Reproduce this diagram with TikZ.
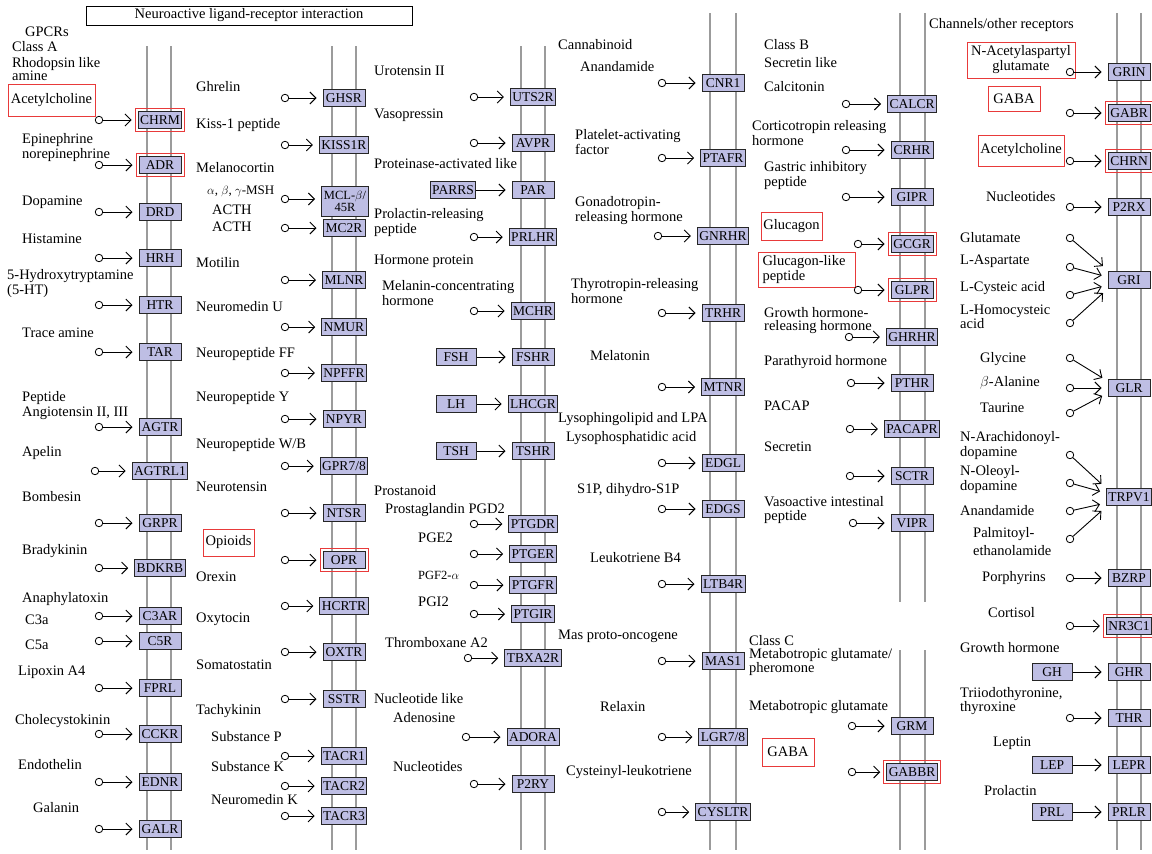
\documentclass[tikz,border=0pt]{standalone}
\usepackage{fontspec}
\setmainfont{Liberation Serif}
\usetikzlibrary{arrows.meta,calc,fit}
\definecolor{recfill}{RGB}{190,190,228}
\definecolor{hlred}{RGB}{232,58,58}
\definecolor{memgray}{RGB}{155,155,155}
\newcommand\myrec[5]{%
  \node[rec] (#1) at (#3,#4) {#2};
  \node[lig] (c#1) at (#5,#4) {};
  \draw[arr] (c#1.east) -- (c#1.east -| #1.west);%
}
\newcommand\myrecb[7]{%
  \node[rec] (#1) at (#3,#4) {#2};
  \node[rec,minimum width=40pt] (#5) at (#7,#4) {#6};
  \draw[arr] (#5.east) -- (#5.east -| #1.west);%
}
\begin{document}
\begin{tikzpicture}[x=1pt,y=-1pt,
 every node/.style={font=\fontsize{14.5}{15}\selectfont},
 lbl/.style={anchor=west,inner sep=0pt,align=left},
 rec/.style={draw=black!85,fill=recfill,line width=1pt,minimum width=42pt,minimum height=17pt,inner xsep=2pt,inner ysep=1pt,font=\fontsize{13.5}{14}\selectfont},
 hlbox/.style={draw=hlred,line width=0.9pt,inner sep=2.5pt},
 hllbl/.style={draw=hlred,line width=0.9pt,inner sep=0pt,align=center},
 lig/.style={circle,draw=black,fill=white,line width=0.8pt,minimum size=7.5pt,inner sep=0pt},
 arr/.style={-{Straight Barb[length=6pt,width=12pt]},line width=0.9pt,shorten >=6pt},
 mem/.style={draw=memgray,line width=1.4pt}]
\useasboundingbox (0,0) rectangle (1152,854);
\clip (0,0) rectangle (1152,854);
% membranes
\draw[mem] (147,46) -- (147,850); \draw[mem] (171,46) -- (171,850);
\draw[mem] (332,46) -- (332,850); \draw[mem] (356,46) -- (356,850);
\draw[mem] (521,46) -- (521,850); \draw[mem] (545,46) -- (545,850);
\draw[mem] (710,13) -- (710,850); \draw[mem] (736,13) -- (736,850);
\draw[mem] (900,13) -- (900,602); \draw[mem] (925,13) -- (925,602);
\draw[mem] (900,650) -- (900,850); \draw[mem] (925,650) -- (925,850);
\draw[mem] (1117,13) -- (1117,850); \draw[mem] (1141,13) -- (1141,850);
% title
\node[draw=black,line width=1pt,minimum width=326pt,minimum height=19pt,inner sep=0pt] (title) at (249,15.5) {Neuroactive ligand-receptor interaction};

% ---------- column 1 ----------
\node[lbl] (tGPCR) at (25,32) {GPCRs};
\node[lbl] (tClassA) at (12,47) {Class A};
\node[lbl,font=\fontsize{14.5}{12}\selectfont] (tRhod) at (12,69) {Rhodopsin like\\amine};
\node[hllbl,minimum width=87pt,minimum height=32pt] (tACh) at (51.5,100) {Acetylcholine};
\node[lbl] (tEpi) at (22,147.5) {Epinephrine\\norepinephrine};
\node[lbl] (tDop) at (22,202) {Dopamine};
\node[lbl] (tHis) at (22,239) {Histamine};
\node[lbl] (t5HT) at (7,283.5) {5-Hydroxytryptamine\\(5-HT)};
\node[lbl] (tTrace) at (22,333) {Trace amine};
\node[lbl] (tPep) at (22,406) {Peptide\\Angiotensin II, III};
\node[lbl] (tApe) at (22,453) {Apelin};
\node[lbl] (tBomb) at (22,497) {Bombesin};
\node[lbl] (tBrad) at (22,551) {Bradykinin};
\node[lbl] (tAna) at (22,599) {Anaphylatoxin};
\node[lbl] (tC3a) at (25,620) {C3a};
\node[lbl] (tC5a) at (25,645) {C5a};
\node[lbl] (tLip) at (18,672) {Lipoxin A4};
\node[lbl] (tCCK) at (15,721) {Cholecystokinin};
\node[lbl] (tEnd) at (18,765) {Endothelin};
\node[lbl] (tGal) at (33,808) {Galanin};
\myrec{CHRM}{CHRM}{160}{120}{99}
\myrec{ADR}{ADR}{160}{165}{99}
\myrec{DRD}{DRD}{160}{212}{99}
\myrec{HRH}{HRH}{160}{258}{99}
\myrec{HTR}{HTR}{160}{305}{99}
\myrec{TAR}{TAR}{160}{352}{99}
\myrec{AGTR}{AGTR}{160}{427}{99}
\myrec{AGTRL1}{AGTRL1}{160}{471}{95}
\myrec{GRPR}{GRPR}{160}{523}{99}
\myrec{BDKRB}{BDKRB}{160}{568}{99}
\myrec{C3AR}{C3AR}{160}{616}{99}
\myrec{C5R}{C5R}{160}{641}{99}
\myrec{FPRL}{FPRL}{160}{688}{99}
\myrec{CCKR}{CCKR}{160}{734}{99}
\myrec{EDNR}{EDNR}{160}{782}{99}
\myrec{GALR}{GALR}{160}{829}{99}
\node[hlbox,fit=(CHRM)] (hCHRM) {};
\node[hlbox,fit=(ADR)] (hADR) {};

% ---------- column 2 ----------
\node[lbl] (tGhr) at (196,87) {Ghrelin};
\node[lbl] (tKiss) at (196,125) {Kiss-1 peptide};
\node[lbl] (tMel) at (196,168) {Melanocortin};
\node[lbl,font=\fontsize{13}{14}\selectfont] (tMSH) at (207,191) {$\alpha$, $\beta$, $\gamma$-MSH};
\node[lbl] (tACTH1) at (212,210) {ACTH};
\node[lbl] (tACTH2) at (212,227) {ACTH};
\node[lbl] (tMot) at (196,263) {Motilin};
\node[lbl] (tNMU) at (196,307) {Neuromedin U};
\node[lbl] (tNPFF) at (196,354) {Neuropeptide FF};
\node[lbl] (tNPY) at (196,398) {Neuropeptide Y};
\node[lbl] (tNPW) at (196,445) {Neuropeptide W/B};
\node[lbl] (tNeurot) at (196,487) {Neurotensin};
\node[hllbl,minimum width=51pt,minimum height=27pt] (tOpi) at (228.5,542.5) {Opioids};
\node[lbl] (tOre) at (196,577) {Orexin};
\node[lbl] (tOxy) at (196,619) {Oxytocin};
\node[lbl] (tSom) at (196,665) {Somatostatin};
\node[lbl] (tTach) at (196,711) {Tachykinin};
\node[lbl] (tSubP) at (211,737) {Substance P};
\node[lbl] (tSubK) at (211,767) {Substance K};
\node[lbl] (tNMK) at (211,800) {Neuromedin K};
\myrec{GHSR}{GHSR}{344}{98}{285}
\myrec{KISS1R}{KISS1R}{344}{145}{285}
\node[rec,align=center,font=\fontsize{12.5}{12}\selectfont,minimum height=30pt,minimum width=47pt] (MCL) at (345,201) {MCL-$\beta$/\\45R};
\node[lig] (cMCL) at (285,199) {};
\draw[arr] (cMCL.east) -- (cMCL.east -| MCL.west);
\myrec{MC2R}{MC2R}{344}{228}{285}
\myrec{MLNR}{MLNR}{344}{280}{285}
\myrec{NMUR}{NMUR}{344}{327}{285}
\myrec{NPFFR}{NPFFR}{344}{373}{285}
\myrec{NPYR}{NPYR}{344}{419}{285}
\myrec{GPRWB}{GPR7/8}{344}{466}{285}
\myrec{NTSR}{NTSR}{344}{513}{285}
\myrec{OPR}{OPR}{344}{560}{285}
\myrec{HCRTR}{HCRTR}{344}{606}{285}
\myrec{OXTR}{OXTR}{344}{652}{285}
\myrec{SSTR}{SSTR}{344}{699}{285}
\myrec{TACRa}{TACR1}{344}{756}{285}
\myrec{TACRb}{TACR2}{344}{786}{285}
\myrec{TACRc}{TACR3}{344}{816}{285}
\node[hlbox,fit=(OPR)] (hOPR) {};

% ---------- column 3 ----------
\node[lbl] (tUro) at (374,71) {Urotensin II};
\node[lbl] (tVaso) at (374,115) {Vasopressin};
\node[lbl] (tProt) at (374,164) {Proteinase-activated like};
\node[lbl] (tPrl) at (374,223) {Prolactin-releasing\\peptide};
\node[lbl] (tHorm) at (374,261) {Hormone protein};
\node[lbl] (tMCH) at (382,293) {Melanin-concentrating\\hormone};
\node[lbl] (tProst) at (374,491) {Prostanoid};
\node[lbl] (tPGD) at (385,510) {Prostaglandin PGD2};
\node[lbl] (tPGE) at (418,538) {PGE2};
\node[lbl,font=\fontsize{12.5}{14}\selectfont] (tPGF) at (418,575) {PGF2-$\alpha$};
\node[lbl] (tPGI) at (418,602) {PGI2};
\node[lbl] (tThro) at (385,643) {Thromboxane A2};
\node[lbl] (tNucL) at (374,699) {Nucleotide like};
\node[lbl] (tAde) at (393,718) {Adenosine};
\node[lbl] (tNuc3) at (393,767) {Nucleotides};
\myrec{UTSR}{UTS2R}{533}{97}{474}
\myrec{AVPR}{AVPR}{533}{143}{474}
\myrecb{PAR}{PAR}{533}{190}{PARRS}{PARRS}{453}
\myrec{PRLHR}{PRLHR}{533}{237}{474}
\myrec{MCHR}{MCHR}{533}{311}{474}
\myrecb{FSHR}{FSHR}{533}{357}{FSH}{FSH}{456}
\myrecb{LHCGR}{LHCGR}{533}{404}{LH}{LH}{456}
\myrecb{TSHR}{TSHR}{533}{451}{TSH}{TSH}{456}
\myrec{PTGDR}{PTGDR}{533}{524}{474}
\myrec{PTGER}{PTGER}{533}{554}{474}
\myrec{PTGFR}{PTGFR}{533}{585}{474}
\myrec{PTGIR}{PTGIR}{533}{614}{474}
\myrec{TBXAR}{TBXA2R}{533}{658}{468}
\myrec{ADORA}{ADORA}{533}{737}{466}
\myrec{PRY}{P2RY}{533}{784}{474}

% ---------- column 4 ----------
\node[lbl] (tCann) at (558,45) {Cannabinoid};
\node[lbl] (tAna4) at (580,67) {Anandamide};
\node[lbl] (tPlat) at (575,142) {Platelet-activating\\factor};
\node[lbl] (tGon) at (575,211) {Gonadotropin-\\releasing hormone};
\node[lbl] (tThy) at (571,291) {Thyrotropin-releasing\\hormone};
\node[lbl] (tMelat) at (590,356) {Melatonin};
\node[lbl] (tLyso) at (558,419) {Lysophingolipid and LPA};
\node[lbl] (tLPA) at (566,438) {Lysophosphatidic acid};
\node[lbl] (tS1P) at (577,490) {S1P, dihydro-S1P};
\node[lbl] (tLTB) at (590,558) {Leukotriene B4};
\node[lbl] (tMas) at (558,636) {Mas proto-oncogene};
\node[lbl] (tRel) at (600,707) {Relaxin};
\node[lbl] (tCys) at (566,772) {Cysteinyl-leukotriene};
\myrec{CNR}{CNR1}{723}{83}{662}
\myrec{PTAFR}{PTAFR}{723}{158}{662}
\myrec{GNRHR}{GNRHR}{723}{236}{658}
\myrec{TRHR}{TRHR}{723}{313}{662}
\myrec{MTNR}{MTNR}{723}{387}{662}
\myrec{EDGL}{EDGL}{723}{463}{662}
\myrec{EDGS}{EDGS}{723}{509}{662}
\myrec{LTBR}{LTB4R}{723}{584}{662}
\myrec{MAS}{MAS1}{723}{661}{662}
\myrec{LGR}{LGR7/8}{723}{737}{662}
\myrec{CYSLTR}{CYSLTR}{723}{812}{662}

% ---------- column 5 ----------
\node[lbl] (tClassB) at (764,45) {Class B};
\node[lbl] (tSecl) at (764,63) {Secretin like};
\node[lbl] (tCalc) at (764,87) {Calcitonin};
\node[lbl] (tCort) at (752,133) {Corticotropin releasing\\hormone};
\node[lbl] (tGast) at (764,176) {Gastric inhibitory\\peptide};
\node[hllbl,minimum width=61pt,minimum height=28pt] (tGlu) at (791.5,226) {Glucagon};
\node[hllbl,minimum width=97pt,minimum height=35pt,align=left,text width=88pt] (tGlp) at (806.5,269.5) {Glucagon-like\\peptide};
\node[lbl,font=\fontsize{14.5}{13.5}\selectfont] (tGH5) at (764,320.5) {Growth hormone-\\releasing hormone};
\node[lbl] (tPara) at (764,362) {Parathyroid hormone};
\node[lbl] (tPAC) at (764,406) {PACAP};
\node[lbl] (tSec) at (764,447) {Secretin};
\node[lbl,font=\fontsize{14.5}{14}\selectfont] (tVas) at (764,510) {Vasoactive intestinal\\peptide};
\node[lbl] (tClassC) at (749,641) {Class C};
\node[lbl,font=\fontsize{14.5}{14}\selectfont] (tMetp) at (749,662) {Metabotropic glutamate/\\pheromone};
\node[lbl] (tMet) at (749,707) {Metabotropic glutamate};
\node[hllbl,minimum width=52pt,minimum height=28pt] (tGABA5) at (788,752) {GABA};
\myrec{CALCR}{CALCR}{912}{104}{846}
\myrec{CRHR}{CRHR}{912}{150}{846}
\myrec{GIPR}{GIPR}{912}{197}{846}
\myrec{GCGR}{GCGR}{912}{244}{858}
\myrec{GLPR}{GLPR}{912}{290}{858}
\myrec{GHRHR}{GHRHR}{912}{337}{849}
\myrec{PTHR}{PTHR}{912}{383}{851}
\myrec{PACAPR}{PACAPR}{912}{429}{850}
\myrec{SCTR}{SCTR}{912}{476}{850}
\myrec{VIPR}{VIPR}{912}{523}{853}
\myrec{GRM}{GRM}{912}{726}{852}
\myrec{GABBR}{GABBR}{912}{772}{852}
\node[hlbox,fit=(GCGR)] (hGCGR) {};
\node[hlbox,fit=(GLPR)] (hGLPR) {};
\node[hlbox,fit=(GABBR)] (hGABBR) {};

% ---------- column 6 ----------
\node[lbl] (tChan) at (929,25) {Channels/other receptors};
\node[hllbl,minimum width=108pt,minimum height=36pt] (tNAAG) at (1021,60) {N-Acetylaspartyl\\glutamate};
\node[hllbl,minimum width=52pt,minimum height=25pt] (tGABA6) at (1014,99) {GABA};
\node[hllbl,minimum width=86pt,minimum height=31pt] (tACh6) at (1021,150.5) {Acetylcholine};
\node[lbl] (tNuc6) at (986,197) {Nucleotides};
\node[lbl] (tGlut) at (960,238) {Glutamate};
\node[lbl] (tAsp) at (960,261) {L-Aspartate};
\node[lbl] (tCyst) at (960,288) {L-Cysteic acid};
\node[lbl,font=\fontsize{14.5}{12.5}\selectfont] (tHomo) at (960,317) {L-Homocysteic\\acid};
\node[lbl] (tGly) at (980,359) {Glycine};
\node[lbl] (tAla) at (980,383) {$\beta$-Alanine};
\node[lbl] (tTau) at (980,408) {Taurine};
\node[lbl] (tNAD) at (960,445.5) {N-Arachidonoyl-\\dopamine};
\node[lbl] (tNOD) at (960,480) {N-Oleoyl-\\dopamine};
\node[lbl] (tAna6) at (960,511) {Anandamide};
\node[lbl,font=\fontsize{14.5}{18}\selectfont] (tPalm) at (973,542) {Palmitoyl-\\ethanolamide};
\node[lbl] (tPor) at (982,578) {Porphyrins};
\node[lbl] (tCor) at (988,613) {Cortisol};
\node[lbl] (tGHl) at (960,648) {Growth hormone};
\node[lbl,font=\fontsize{14.5}{14}\selectfont] (tTri) at (960,701) {Triiodothyronine,\\thyroxine};
\node[lbl] (tLep) at (993,743) {Leptin};
\node[lbl] (tPrl6) at (984,791) {Prolactin};
\myrec{GRIN}{GRIN}{1129}{72}{1070}
\myrec{GABR}{GABR}{1129}{113}{1070}
\myrec{CHRN}{CHRN}{1129}{161}{1070}
\myrec{PRX}{P2RX}{1129}{207}{1070}
\node[hlbox,fit=(GABR)] (hGABR) {};
\node[hlbox,fit=(CHRN)] (hCHRN) {};
% GRI fan
\node[rec] (GRI) at (1129,280) {GRI};
\node[lig] (cGRIa) at (1070,238) {};
\node[lig] (cGRIb) at (1070,267) {};
\node[lig] (cGRIc) at (1070,295) {};
\node[lig] (cGRId) at (1070,323) {};
\draw[arr] (cGRIa) -- ($(GRI.west)+(0,-10)$);
\draw[arr] (cGRIb) -- ($(GRI.west)+(0,-3)$);
\draw[arr] (cGRIc) -- ($(GRI.west)+(0,5)$);
\draw[arr] (cGRId) -- ($(GRI.west)+(0,9)$);
% GLR fan
\node[rec] (GLR) at (1129,388) {GLR};
\node[lig] (cGLRa) at (1070,358) {};
\node[lig] (cGLRb) at (1070,388) {};
\node[lig] (cGLRc) at (1070,413) {};
\draw[arr] (cGLRa) -- ($(GLR.west)+(0,-7)$);
\draw[arr] (cGLRb) -- ($(GLR.west)+(0,0)$);
\draw[arr] (cGLRc) -- ($(GLR.west)+(0,5)$);
% TRPV1 fan
\node[rec] (TRPV) at (1129,497) {TRPV1};
\node[lig] (cTRPa) at (1070,455) {};
\node[lig] (cTRPb) at (1070,483) {};
\node[lig] (cTRPc) at (1070,511) {};
\node[lig] (cTRPd) at (1070,539) {};
\draw[arr] (cTRPa) -- ($(TRPV.west)+(0,-9)$);
\draw[arr] (cTRPb) -- ($(TRPV.west)+(0,-4)$);
\draw[arr] (cTRPc) -- ($(TRPV.west)+(0,6)$);
\draw[arr] (cTRPd) -- ($(TRPV.west)+(0,10)$);
\myrec{BZRP}{BZRP}{1129}{578}{1070}
\myrec{NRC}{NR3C1}{1129}{626}{1070}
\node[hlbox,fit=(NRC)] (hNRC) {};
\myrecb{GHR}{GHR}{1129}{672}{GH}{GH}{1052}
\myrec{THR}{THR}{1129}{718}{1070}
\myrecb{LEPR}{LEPR}{1129}{765}{LEP}{LEP}{1052}
\myrecb{PRLR}{PRLR}{1129}{812}{PRL}{PRL}{1052}
\end{tikzpicture}
\end{document}
